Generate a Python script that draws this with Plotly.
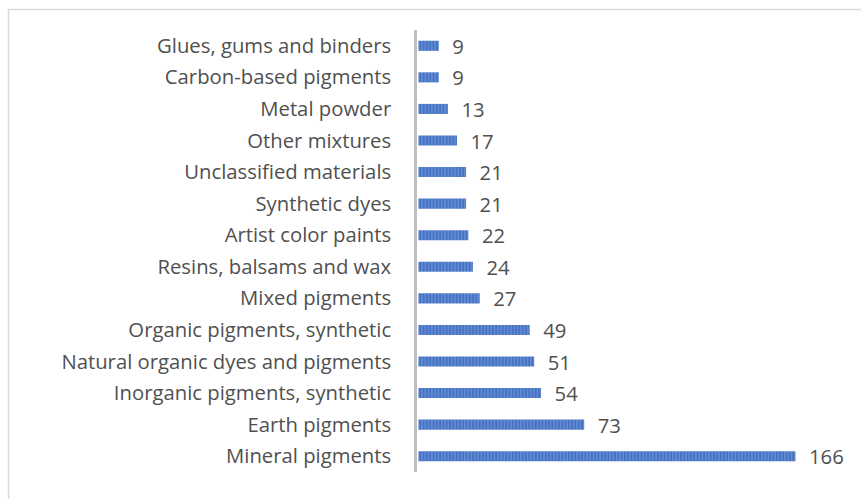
import plotly.graph_objects as go

categories = [
    "Mineral pigments",
    "Earth pigments",
    "Inorganic pigments, synthetic",
    "Natural organic dyes and pigments",
    "Organic pigments, synthetic",
    "Mixed pigments",
    "Resins, balsams and wax",
    "Artist color paints",
    "Synthetic dyes",
    "Unclassified materials",
    "Other mixtures",
    "Metal powder",
    "Carbon-based pigments",
    "Glues, gums and binders",
]
values = [166, 73, 54, 51, 49, 27, 24, 22, 21, 21, 17, 13, 9, 9]

W, H = 861, 499
L, R, T, B = 417, 36, 30, 27
FONT = "Open Sans"
FS = 20.3
TXT = "#505050"

fig = go.Figure(go.Bar(
    x=values, y=categories, orientation="h",
    width=0.32,
    marker=dict(color="#4472C4", line=dict(width=0),
                pattern=dict(shape="|", fgcolor="#A9C0EA", bgcolor="#4472C4", size=3.3, solidity=0.3)),
    text=values, texttemplate="  %{x}", textposition="outside", cliponaxis=False,
    constraintext="none",
    textfont=dict(family=FONT, size=FS, color=TXT),
))

pw, ph = W - L - R, H - T - B
def px(x): return (x - L) / pw
def py(y): return 1 - (y - T) / ph

fig.add_shape(type="rect", xref="paper", yref="paper",
              x0=px(8.5), x1=px(900), y0=py(9.5), y1=py(540),
              line=dict(color="#D9D9D9", width=1.5), layer="below")

fig.update_layout(
    width=W, height=H, margin=dict(l=L, r=R, t=T, b=B),
    paper_bgcolor="white", plot_bgcolor="white",
    showlegend=False,
    font=dict(family=FONT, size=FS, color=TXT),
    xaxis=dict(range=[-0.6, 179], visible=False, showgrid=False, zeroline=False),
    yaxis=dict(categoryorder="array", categoryarray=categories,
               showline=True, linecolor="#BFBFBF", linewidth=2.5,
               ticks="outside", ticklen=19, tickcolor="rgba(0,0,0,0)",
               showgrid=False, tickfont=dict(family=FONT, size=FS, color=TXT)),
)

fig.write_html("out.html")
